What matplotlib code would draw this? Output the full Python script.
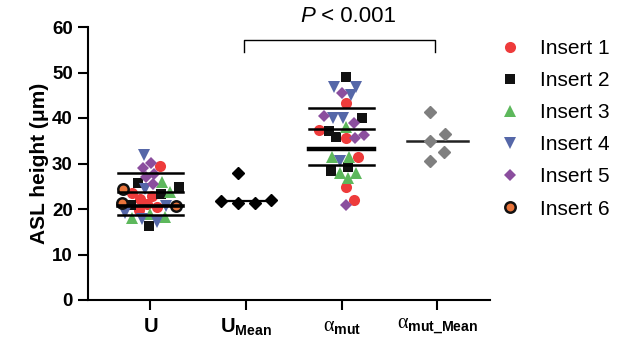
import numpy as np
import matplotlib.pyplot as plt
from matplotlib.lines import Line2D

plt.rcParams['font.family'] = ['Liberation Sans', 'DejaVu Sans']
plt.rcParams['mathtext.fontset'] = 'custom'
plt.rcParams['mathtext.rm'] = 'Liberation Sans'
plt.rcParams['mathtext.bf'] = 'Liberation Sans:bold'
plt.rcParams['mathtext.it'] = 'Liberation Serif'

# ---- data ----
tick_labels = [r'$\mathbf{U}$', r'$\mathbf{U_{Mean}}$',
               r'$\alpha_{\mathbf{mut}}$', r'$\alpha_{\mathbf{mut\_Mean}}$']
inserts = ['Insert 1', 'Insert 2', 'Insert 3', 'Insert 4', 'Insert 5', 'Insert 6']

# U, per insert
u_ins1 = [29.5, 23.5, 22.8, 22.3, 21.0, 20.4, 19.8]
u_ins2 = [25.7, 24.8, 23.3, 20.9, 16.3]
u_ins3 = [26.0, 23.8, 18.2, 18.0, 19.0]
u_ins4 = [31.8, 24.3, 20.6, 19.2, 17.8, 17.2]
u_ins5 = [30.2, 29.0, 27.8, 27.0, 25.6]
u_ins6 = [24.3, 21.4, 20.6]
u_lines = [27.9, 23.8, 20.6, 18.7]

u_mean = [27.9, 21.3, 22.0, 21.3, 21.8]
u_mean_line = 21.8

# alpha_mut, per insert
a_ins1 = [43.3, 37.4, 35.6, 31.4, 24.8, 22.0]
a_ins2 = [49.0, 40.0, 37.1, 35.8, 29.2, 28.3]
a_ins3 = [38.0, 31.4, 31.4, 27.9, 27.9, 26.8]
a_ins4 = [46.8, 46.8, 45.0, 40.0, 40.0, 30.5]
a_ins5 = [45.5, 40.4, 39.0, 36.3, 35.6, 20.9]
a_lines = [42.2, 37.6, 33.2, 29.7]

a_mean = [41.3, 36.5, 35.0, 32.5, 30.5]
a_mean_line = 35.0

# ---- styles ----
styles = [
    dict(marker='o', color='#EE3B3B', mec='#EE3B3B', mew=0),
    dict(marker='s', color='#111111', mec='#111111', mew=0),
    dict(marker='^', color='#5DB85C', mec='#5DB85C', mew=0),
    dict(marker='v', color='#5567A8', mec='#5567A8', mew=0),
    dict(marker='D', color='#8B4E9E', mec='#8B4E9E', mew=0),
    dict(marker='o', color='#E8743B', mec='#111111', mew=1.8),
]
sizes = [8, 7.5, 8, 8, 6, 7.5]

W, H = 619, 345
fig = plt.figure(figsize=(W / 100, H / 100), dpi=100)
ax = fig.add_axes([88 / W, 45 / H, 402 / W, 273 / H])
ax.set_xlim(-0.65, 3.55)
ax.set_ylim(0, 60)

px_x = 95.7   # pixels per x unit
px_y = 4.55   # pixels per y unit


def swarm(vals, d=8.0):
    vals = np.asarray(vals, float)
    order = np.argsort(vals)
    placed = []
    xs = np.zeros(len(vals))
    for i in order:
        y = vals[i] * px_y
        cands = [0.0]
        for (qx, qy) in placed:
            dy = y - qy
            if abs(dy) < d:
                dx = np.sqrt(d * d - dy * dy)
                cands += [qx + dx, qx - dx]
        cands.sort(key=abs)
        for c in cands:
            if all((c - qx) ** 2 + (y - qy) ** 2 >= d * d - 1e-6 for qx, qy in placed):
                xs[i] = c
                break
        placed.append((xs[i], y))
    xs = xs - (xs.max() + xs.min()) / 2
    return xs / px_x


def draw_group(center, series, d):
    allv = np.concatenate([np.asarray(s, float) for s in series])
    lab = np.concatenate([[k] * len(s) for k, s in enumerate(series)])
    offs = swarm(allv, d)
    for k in range(len(series)):
        m = lab == k
        st = styles[k]
        ax.plot(center + offs[m], allv[m], ls='none', marker=st['marker'],
                mfc=st['color'], mec=st['mec'], mew=st['mew'], ms=sizes[k],
                zorder=3, clip_on=False)


draw_group(0, [u_ins1, u_ins2, u_ins3, u_ins4, u_ins5, u_ins6], 9.5)
draw_group(2, [a_ins1, a_ins2, a_ins3, a_ins4, a_ins5], 9.5)

for i, v in enumerate(u_lines):
    ax.plot([-0.34, 0.34], [v, v], color='black', lw=2.6 if i == 2 else 1.8, zorder=4)
for i, v in enumerate(a_lines):
    ax.plot([1.66, 2.34], [v, v], color='black', lw=3.2 if i == 2 else 1.8, zorder=4)

offs = swarm(u_mean, 17)
ax.plot(1 + offs, u_mean, ls='none', marker='D', color='black', ms=6.5, zorder=3)
ax.plot([0.70, 1.30], [u_mean_line] * 2, color='black', lw=1.6, zorder=2)
offs = swarm(a_mean, 17)
ax.plot(3 + offs, a_mean, ls='none', marker='D', color='#7f7f7f', ms=6.5, zorder=3)
ax.plot([2.68, 3.32], [a_mean_line] * 2, color='#222222', lw=1.8, zorder=2)

# significance bracket
ax.plot([0.98, 0.98, 2.98, 2.98], [54.5, 57.2, 57.2, 54.5], color='black', lw=1.0,
        clip_on=False)
tp = ax.text(1.57, 62.3, 'P', style='italic', fontsize=16, ha='left', va='center')
ax.annotate(' < 0.001', xy=(1, 0), xycoords=tp, ha='left', va='bottom', fontsize=16)

ax.spines['top'].set_visible(False)
ax.spines['right'].set_visible(False)
ax.spines['left'].set_linewidth(1.5)
ax.spines['bottom'].set_linewidth(1.5)
ax.tick_params(width=1.5, length=7)
ax.set_yticks(range(0, 61, 10))
ax.set_yticklabels([str(v) for v in range(0, 61, 10)], fontweight='bold', fontsize=13.5)
ax.tick_params(axis='y', pad=4)
ax.set_xticks([0, 1, 2, 3])
ax.set_xticklabels(tick_labels, fontsize=14.5)
ax.tick_params(axis='x', pad=5)
ax.set_ylabel('ASL height (μm)', fontweight='bold', fontsize=15, labelpad=2)

handles = [Line2D([], [], ls='none', marker=styles[k]['marker'], mfc=styles[k]['color'],
                  mec=styles[k]['mec'], mew=styles[k]['mew'], ms=sizes[k])
           for k in range(6)]
fig.legend(handles, inserts, loc='upper left', bbox_to_anchor=(500 / W, 1 - 39 / H),
           frameon=False, fontsize=15, labelspacing=0.63, handlelength=1.0,
           handletextpad=0.9, borderpad=0, borderaxespad=0)

fig.savefig('out.png', dpi=100)
